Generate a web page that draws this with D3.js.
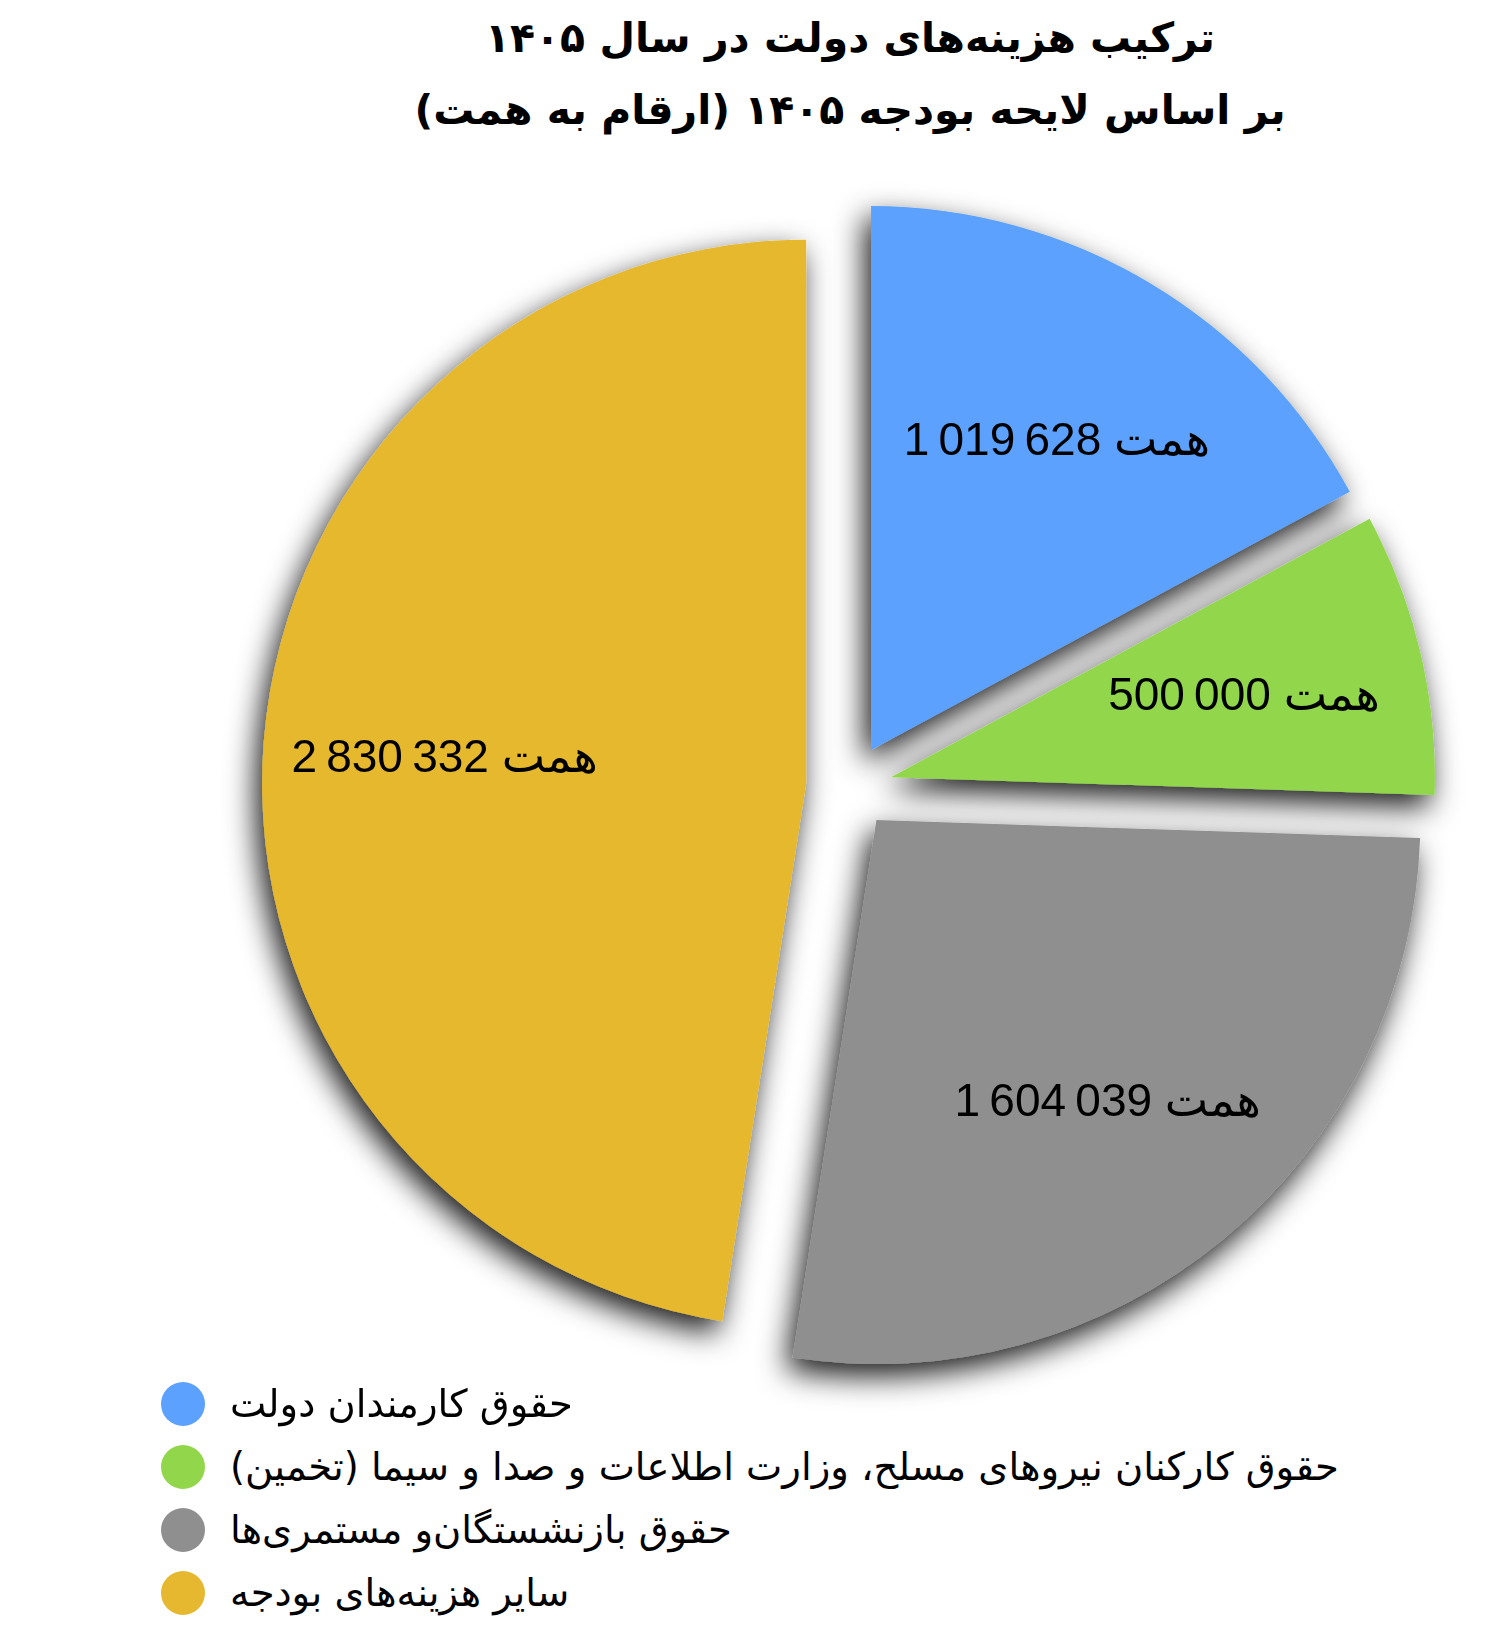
<!DOCTYPE html>
<html>
<head>
<meta charset="utf-8">
<script src="https://cdn.jsdelivr.net/npm/d3@7"></script>
<style>
  body { margin: 0; background: #fff; }
  svg { display: block; }
</style>
</head>
<body>
<svg id="chart" width="1500" height="1625"></svg>
<script>
const categories = [
  "حقوق کارمندان دولت",
  "حقوق کارکنان نیروهای مسلح، وزارت اطلاعات و صدا و سیما (تخمین)",
  "حقوق بازنشستگان‌و مستمری‌ها",
  "سایر هزینه‌های بودجه"
];
const values = [1019628, 500000, 1604039, 2830332];
const colors = ["#5ba1fd", "#91d64b", "#8f8f8f", "#e6b82f"];
const titleLines = [
  "ترکیب هزینه‌های دولت در سال ۱۴۰۵",
  "بر اساس لایحه بودجه ۱۴۰۵ (ارقام به همت)"
];
const unit = "همت";

const svg = d3.select("#chart");

const cx = 849;
const cy = 787;
const radius = 544;
const explode = 43;

const persianFont = "'DejaVu Sans', sans-serif";

// Drop shadow under the slices
const defs = svg.append("defs");
defs
  .append("filter")
  .attr("id", "shadow")
  .attr("x", "-20%")
  .attr("y", "-20%")
  .attr("width", "140%")
  .attr("height", "140%")
  .append("feDropShadow")
  .attr("dx", -6)
  .attr("dy", 12)
  .attr("stdDeviation", 15)
  .attr("flood-color", "#000")
  .attr("flood-opacity", 0.9);

// Title
svg
  .append("g")
  .selectAll("text")
  .data(titleLines)
  .enter()
  .append("text")
  .attr("x", 850)
  .attr("y", (d, i) => 52 + i * 72)
  .attr("text-anchor", "middle")
  .attr("direction", "rtl")
  .attr("font-family", persianFont)
  .attr("font-weight", "bold")
  .attr("font-size", 41)
  .attr("fill", "#000")
  .text((d) => d);

// Pie
const pie = d3.pie().sort(null).value((d) => d);
const arcs = pie(values);
const arc = d3.arc().innerRadius(0).outerRadius(radius);

const fmt = d3.formatLocale({
  decimal: ".",
  thousands: "\u2009",
  grouping: [3],
  currency: ["", ""]
}).format(",");

const offset = (d, dist) => {
  const mid = (d.startAngle + d.endAngle) / 2;
  return [Math.sin(mid) * dist, -Math.cos(mid) * dist];
};

const slices = svg
  .append("g")
  .attr("transform", `translate(${cx},${cy})`)
  .attr("filter", "url(#shadow)");

slices
  .selectAll("path")
  .data(arcs)
  .enter()
  .append("path")
  .attr("class", "slice")
  .attr("transform", (d) => `translate(${offset(d, explode)})`)
  .attr("d", arc)
  .attr("fill", (d, i) => colors[i]);

svg
  .append("g")
  .attr("transform", `translate(${cx},${cy})`)
  .selectAll("text")
  .data(arcs)
  .enter()
  .append("text")
  .attr("transform", (d) => {
    const [ox, oy] = offset(d, explode);
    const [lx, ly] = offset(d, radius * 2 / 3);
    return `translate(${ox + lx},${oy + ly})`;
  })
  .attr("text-anchor", "middle")
  .attr("dy", "0.35em")
  .attr("font-family", "'Liberation Sans', Arial, 'DejaVu Sans', sans-serif")
  .attr("font-size", 46)
  .attr("fill", "#000")
  .text((d) => `${fmt(d.data)} ${unit}`);

// Legend
const legend = svg
  .append("g")
  .selectAll("g")
  .data(categories)
  .enter()
  .append("g")
  .attr("transform", (d, i) => `translate(183,${1404 + i * 63})`);

legend
  .append("circle")
  .attr("r", 22)
  .attr("fill", (d, i) => colors[i]);

legend
  .append("text")
  .attr("x", 47)
  .attr("dy", "0.35em")
  .attr("direction", "rtl")
  .attr("text-anchor", "end")
  .attr("font-family", persianFont)
  .attr("font-size", 38.5)
  .attr("fill", "#000")
  .text((d) => d);
</script>
</body>
</html>
